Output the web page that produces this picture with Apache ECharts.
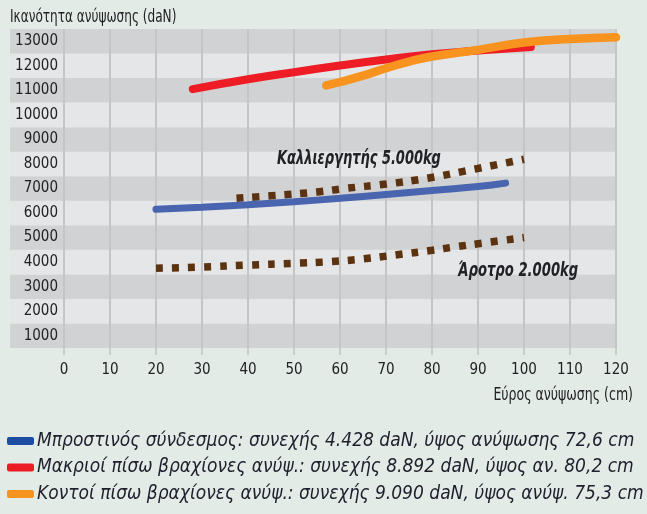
<!DOCTYPE html>
<html>
<head>
<meta charset="utf-8">
<script src="https://cdn.jsdelivr.net/npm/echarts@6/dist/echarts.min.js"></script>
<style>
html,body{margin:0;padding:0;background:#e3ebe6;}
#c{width:647px;height:514px;}
</style>
</head>
<body>
<div id="c"></div>
<script>
// ---- data ----
const xTicks = [0,10,20,30,40,50,60,70,80,90,100,110,120];
const yTicks = [1000,2000,3000,4000,5000,6000,7000,8000,9000,10000,11000,12000,13000];
const blueX = [20,30,40,50,60,70,80,90,96];
const blueY = [6150,6240,6340,6460,6600,6760,6920,7080,7220];
const redX = [28,40,50,60,70,80,90,101.5];
const redY = [11050,11450,11740,12010,12260,12470,12620,12770];
const orangeX = [57,60,65,70,75,80,90,100,110,120];
const orangeY = [11200,11340,11600,11900,12170,12380,12650,12950,13090,13160];
const cultX = [37.5,45,55,61,70,79,89,100];
const cultY = [6600,6700,6860,7000,7180,7420,7780,8190];
const plowX = [20,30,40,50,58,65,72,80,85,92,100];
const plowY = [3750,3800,3880,3950,4020,4130,4290,4480,4620,4800,5000];
const seriesNames = [
  'Μπροστινός σύνδεσμος: συνεχής 4.428 daN, ύψος ανύψωσης 72,6 cm',
  'Μακριοί πίσω βραχίονες ανύψ.: συνεχής 8.892 daN, ύψος αν. 80,2 cm',
  'Κοντοί πίσω βραχίονες ανύψ.: συνεχής 9.090 daN, ύψος ανύψ. 75,3 cm'
];
const annotCult = 'Καλλιεργητής 5.000kg';
const annotPlow = 'Άροτρο 2.000kg';
const yTitle = 'Ικανότητα ανύψωσης (daN)';
const xTitle = 'Εύρος ανύψωσης (cm)';

const zip = (xs, ys) => xs.map((x, i) => [x, ys[i]]);
const NARROW = "'DejaVu Sans Condensed','DejaVu Sans',sans-serif";
const DARK = '#d1d2d4', LIGHT = '#e5e6e8';
const TXT = '#222226';

const chart = echarts.init(document.getElementById('c'), null, {renderer: 'canvas'});
chart.setOption({
  backgroundColor: '#e3ebe6',
  animation: false,
  grid: [
    {left: 10, right: 31, top: 29, bottom: 166},
    {left: 64, right: 31, top: 29, bottom: 166}
  ],
  xAxis: [
    {gridIndex: 0, type: 'value', min: 0, max: 1, show: false},
    {gridIndex: 1, type: 'value', min: xTicks[0], max: xTicks[xTicks.length-1], interval: 10,
     axisLine: {show: false},
     axisTick: {show: true, length: 7, lineStyle: {color: '#c2c3c5', width: 1.5}},
     splitLine: {show: true, lineStyle: {color: '#c4c5c7', width: 2}},
     axisLabel: {margin: 15, color: TXT, fontFamily: NARROW, fontSize: 15}
    }
  ],
  yAxis: [
    {gridIndex: 0, type: 'value', min: 500, max: 13500, interval: 500,
     axisLine: {show: false}, axisTick: {show: false}, axisLabel: {show: false},
     splitLine: {show: false},
     splitArea: {show: true, areaStyle: {color: [DARK, DARK, LIGHT, LIGHT]}}
    },
    {gridIndex: 1, type: 'value', min: 500, max: 13500, interval: 500,
     axisLine: {show: false}, axisTick: {show: false}, splitLine: {show: false},
     axisLabel: {margin: 6, color: TXT, fontFamily: NARROW, fontSize: 15,
       formatter: v => (yTicks.indexOf(v) >= 0 ? String(v) : '')}
    }
  ],
  legend: {
    orient: 'vertical', left: 7, top: 430, itemGap: 4.5, padding: 0,
    itemWidth: 27, itemHeight: 8, icon: 'roundRect',
    data: [
      {name: seriesNames[0], itemStyle: {color: '#1c4da3'}},
      {name: seriesNames[1], itemStyle: {color: '#ec1c24'}},
      {name: seriesNames[2], itemStyle: {color: '#f7941d'}}
    ],
    textStyle: {fontFamily: NARROW, fontStyle: 'italic', fontSize: 19, lineHeight: 22, color: '#1e1e2c', padding: [0,0,0,-2]}
  },
  graphic: [
    {type: 'text', x: 10, y: 18, z: 100, scaleX: 0.79,
     style: {text: yTitle, font: "17px " + NARROW, fill: TXT, textVerticalAlign: 'middle'}},
    {type: 'text', x: 633, y: 396, z: 100, scaleX: 0.82,
     style: {text: xTitle, font: "17px " + NARROW, fill: TXT, textAlign: 'right', textVerticalAlign: 'middle'}},
    {type: 'text', x: 277, y: 159, z: 100, scaleX: 0.76,
     style: {text: annotCult, font: "italic bold 19px " + NARROW, fill: TXT, textVerticalAlign: 'middle'}},
    {type: 'text', x: 458, y: 271, z: 100, scaleX: 0.77,
     style: {text: annotPlow, font: "italic bold 19px " + NARROW, fill: TXT, textVerticalAlign: 'middle'}}
  ],
  series: [
    {name: 'cult', type: 'line', xAxisIndex: 1, yAxisIndex: 1, smooth: true, showSymbol: false, z: 3,
     data: zip(cultX, cultY), lineStyle: {color: '#5c3310', width: 7.5, type: [7, 9], cap: 'butt'}},
    {name: 'plow', type: 'line', xAxisIndex: 1, yAxisIndex: 1, smooth: true, showSymbol: false, z: 3,
     data: zip(plowX, plowY), lineStyle: {color: '#5c3310', width: 7.5, type: [7, 9], cap: 'butt'}},
    {name: seriesNames[0], type: 'line', xAxisIndex: 1, yAxisIndex: 1, smooth: true, showSymbol: false, z: 4,
     data: zip(blueX, blueY), itemStyle: {color: '#1c4da3'}, lineStyle: {color: '#4a65b0', width: 7, cap: 'round'}},
    {name: seriesNames[1], type: 'line', xAxisIndex: 1, yAxisIndex: 1, smooth: true, showSymbol: false, z: 4,
     data: zip(redX, redY), itemStyle: {color: '#ec1c24'}, lineStyle: {color: '#ee1c25', width: 8, cap: 'round'}},
    {name: seriesNames[2], type: 'line', xAxisIndex: 1, yAxisIndex: 1, smooth: true, showSymbol: false, z: 5,
     data: zip(orangeX, orangeY), itemStyle: {color: '#f7941d'}, lineStyle: {color: '#f7931e', width: 8.5, cap: 'round'}}
  ]
});
</script>
</body>
</html>
